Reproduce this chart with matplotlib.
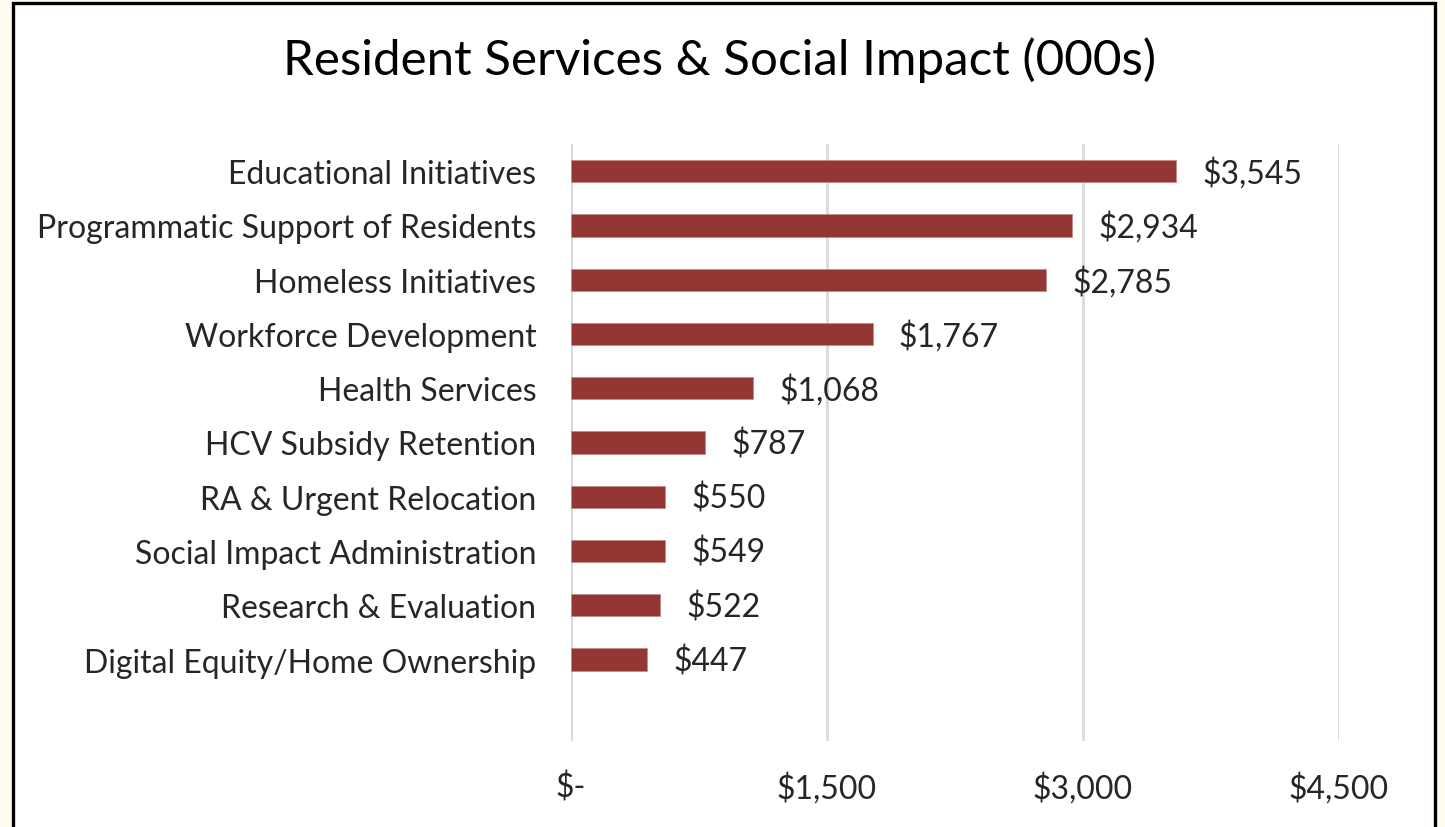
import matplotlib.pyplot as plt
from matplotlib.patches import Rectangle
from matplotlib.ticker import FuncFormatter

categories = [
    "Educational Initiatives",
    "Programmatic Support of Residents",
    "Homeless Initiatives",
    "Workforce Development",
    "Health Services",
    "HCV Subsidy Retention",
    "RA & Urgent Relocation",
    "Social Impact Administration",
    "Research & Evaluation",
    "Digital Equity/Home Ownership",
]
values = [3545, 2934, 2785, 1767, 1068, 787, 550, 549, 522, 447]
x_ticks = [0, 1500, 3000, 4500]

BAR = "#943634"
TEXT = "#262626"
FS = 23
plt.rcParams["font.family"] = ["Lato", "DejaVu Sans"]

fig = plt.figure(figsize=(14.45, 8.28), dpi=100, facecolor="#FFFDF0")

# white chart panel with black frame, kept behind the axes
fig.patches.append(Rectangle((13.5 / 1445, -0.02), (1435 - 13.5) / 1445, 1.02 - 3.5 / 828,
                             transform=fig.transFigure, facecolor="white",
                             edgecolor="black", linewidth=2.4, zorder=-10))

ax = fig.add_axes([571 / 1445, 1 - 742 / 828, (1339 - 571) / 1445, (742 - 145) / 828])
ax.set_facecolor("none")
ax.set_zorder(5)

ypos = list(range(len(categories)))
ax.barh(ypos, values, height=0.41, color=BAR, edgecolor="#c58a88", linewidth=0.6, zorder=3)

for y, v in zip(ypos, values):
    ax.annotate(f"${v:,}", (v, y), xytext=(19, -1), textcoords="offset points",
                va="center", ha="left", fontsize=FS, color=TEXT)

ax.set_xlim(0, 4500)
ax.set_ylim(10.5, -0.5)
ax.set_xticks(x_ticks)
ax.xaxis.set_major_formatter(FuncFormatter(lambda v, p: "$-" if v == 0 else f"${v:,.0f}"))
ax.set_yticks(ypos)
ax.set_yticklabels(categories)
ax.tick_params(axis="x", length=0, pad=22, labelsize=FS, labelcolor=TEXT)
ax.tick_params(axis="y", length=0, pad=25, labelsize=FS, labelcolor=TEXT)
ax.grid(axis="x", color="#D9D9D9", linewidth=2, zorder=0)
for s in ax.spines.values():
    s.set_visible(False)

fig.text(720 / 1445, 1 - 60 / 828, "Resident Services & Social Impact (000s)",
         ha="center", va="center", fontsize=35.5, color="black")

fig.savefig("out.png", dpi=100, facecolor=fig.get_facecolor())
